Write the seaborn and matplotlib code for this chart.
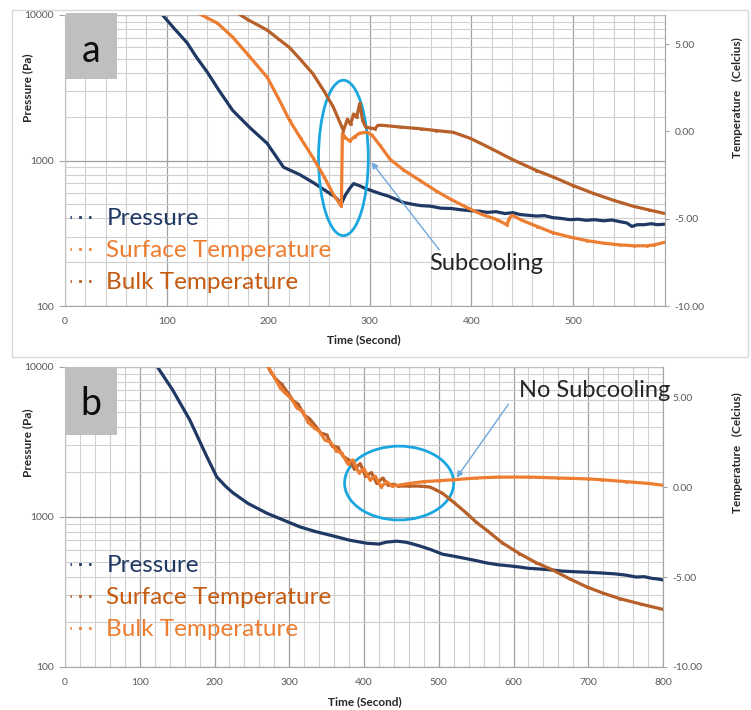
import matplotlib
matplotlib.use("Agg")
import matplotlib.pyplot as plt
import seaborn as sns
from matplotlib.patches import Ellipse, Rectangle
from matplotlib.lines import Line2D
from matplotlib.ticker import LogLocator, NullFormatter, MultipleLocator

# ---------------- data: panel a ----------------
a_p_t = [96, 108, 120, 130, 140, 152, 165, 182, 199, 215, 231, 245, 258, 266, 272,
         276, 280, 284, 290, 296, 302, 310, 318, 326, 333, 342, 350, 360, 370, 380,
         390, 399, 408, 416, 424, 433, 441, 448, 456, 464, 472, 480, 488, 497, 505,
         513, 521, 530, 538, 546, 553, 558, 563, 570, 577, 583, 590]
a_p_v = [10000, 8000, 6460, 5050, 4050, 3000, 2210, 1680, 1310, 900, 800, 700, 610, 560, 505,
         580, 640, 694, 670, 640, 620, 592, 570, 540, 515, 500, 490, 485, 470, 468,
         458, 452, 448, 440, 445, 432, 438, 425, 420, 415, 418, 405, 400, 392, 395,
         388, 392, 385, 390, 380, 372, 352, 362, 362, 368, 362, 365]

a_s_t = [120, 130, 140, 150, 165, 180, 199, 210, 221, 232, 244, 255, 265, 271, 272,
         273, 276, 280, 285, 290, 297, 302, 310, 320, 333, 349, 365, 380, 397, 410,
         425, 435, 437, 440, 450, 465, 480, 497, 514, 530, 546, 560, 573, 580, 590]
a_s_v = [7.3, 6.8, 6.5, 6.2, 5.4, 4.4, 3.1, 1.9, 0.63, -0.4, -1.5, -2.6, -3.7, -4.2, -4.3,
         -0.1, -0.35, -0.55, -0.3, -0.1, -0.05, -0.2, -0.8, -1.6, -2.2, -2.8, -3.4, -3.9, -4.4, -4.75,
         -5.05, -5.35, -5.0, -4.8, -5.1, -5.45, -5.8, -6.05, -6.26, -6.4, -6.5, -6.55, -6.55, -6.5, -6.35]

a_b_t = [158, 165, 180, 199, 210, 221, 232, 244, 255, 264, 274, 278, 281, 284, 287,
         290, 293, 296, 300, 305, 308, 312, 330, 350, 365, 382, 399, 420, 440, 464,
         480, 500, 520, 540, 560, 575, 590]
a_b_v = [7.3, 6.95, 6.4, 5.8, 5.3, 4.8, 4.1, 3.3, 2.3, 1.4, 0.05, 0.7, 0.4, 1.0, 0.8,
         1.6, 0.6, 0.25, 0.2, 0.15, 0.35, 0.35, 0.25, 0.15, 0.05, -0.05, -0.4, -1.0, -1.6, -2.24,
         -2.6, -3.1, -3.55, -3.95, -4.3, -4.5, -4.7]

# ---------------- data: panel b ----------------
b_p_t = [122, 144, 167, 190, 203, 215, 225, 245, 270, 292, 314, 335, 360, 381, 404,
         420, 430, 444, 455, 461, 475, 490, 505, 520, 535, 550, 564, 580, 595, 608,
         620, 635, 652, 665, 680, 700, 719, 735, 750, 764, 775, 785, 795, 800]
b_p_v = [10300, 7030, 4430, 2510, 1850, 1600, 1445, 1230, 1060, 955, 860, 800, 745, 700, 668,
         660, 680, 690, 680, 670, 640, 605, 565, 548, 530, 512, 494, 480, 472, 464,
         455, 450, 443, 436, 432, 428, 423, 418, 410, 398, 400, 390, 385, 380]

b_s_t = [268, 275, 282, 290, 297, 305, 312, 320, 327, 335, 342, 350, 357, 365, 372,
         380, 387, 395, 402, 410, 417, 425, 432, 440, 446, 460, 475, 488, 496, 505,
         520, 537, 550, 564, 585, 608, 630, 652, 675, 698, 720, 742, 770, 800]
b_s_v = [7.0, 6.4, 6.0, 5.7, 5.3, 4.8, 4.6, 4.0, 3.8, 3.4, 3.0, 2.9, 2.3, 2.2, 1.7,
         1.5, 1.0, 1.3, 0.6, 0.8, 0.2, 0.5, 0.1, 0.15, 0.05, 0.05, 0.05, 0.0, -0.15, -0.35,
         -0.85, -1.45, -1.95, -2.4, -3.1, -3.7, -4.2, -4.6, -5.1, -5.55, -5.9, -6.2, -6.5, -6.8]

b_b_t = [266, 273, 280, 288, 295, 303, 310, 318, 325, 333, 340, 348, 355, 363, 370,
         378, 385, 393, 400, 408, 415, 423, 430, 438, 446, 461, 480, 500, 519, 550,
         580, 622, 660, 700, 719, 750, 780, 800]
b_b_v = [7.2, 6.6, 6.1, 5.5, 5.2, 4.9, 4.4, 4.2, 3.6, 3.3, 3.1, 2.6, 2.5, 2.0, 1.9,
         1.3, 1.5, 0.8, 1.0, 0.4, 0.6, 0.0, 0.3, 0.05, 0.1, 0.2, 0.3, 0.35, 0.4, 0.5,
         0.55, 0.55, 0.5, 0.45, 0.4, 0.3, 0.2, 0.1]

p_ticks = [100, 1000, 10000]
p_tick_labels = ["100", "1000", "10000"]
t_ticks = [-10, -5, 0, 5]
t_tick_labels = ["-10.00", "-5.00", "0.00", "5.00"]
legend_labels = ["Pressure", "Surface Temperature", "Bulk Temperature"]

NAVY = "#1F3864"
LIGHT = "#ED7D31"
DARK = "#B8602A"
DARK_TXT = "#C55A11"
CYAN = "#1AA7E0"
ARROW = "#6FA8DC"

sns.set_style("white")
plt.rcParams["font.family"] = ["Lato", "DejaVu Sans"]

W, H = 751, 710
fig = plt.figure(figsize=(W / 100, H / 100), dpi=100)


def fx(px):
    return px / W


def fy(py):
    return 1 - py / H


def panel(left, top, right, bottom, xmax, p_t, p_v, s_t, s_v, b_t, b_v, s_col, b_col):
    ax = fig.add_axes([fx(left), fy(bottom), (right - left) / W, (bottom - top) / H])
    ax.set_yscale("log")
    sns.lineplot(x=p_t, y=p_v, ax=ax, color=NAVY, lw=2.3, sort=False, estimator=None)
    ax.set_xlim(0, xmax)
    ax.set_ylim(100, 10000)
    ax.set_yticks(p_ticks)
    ax.set_yticklabels(p_tick_labels)
    ax.yaxis.set_minor_locator(LogLocator(base=10, subs=range(2, 10)))
    ax.yaxis.set_minor_formatter(NullFormatter())
    ax.xaxis.set_major_locator(MultipleLocator(100))
    ax.xaxis.set_minor_locator(MultipleLocator(20))
    ax.grid(which="major", color="#A0A0A0", lw=0.9)
    ax.grid(which="minor", color="#D0D0D0", lw=0.8)
    ax.set_axisbelow(True)
    for s in ax.spines.values():
        s.set_color("#BFBFBF")
    ax.spines["bottom"].set_color("#A6A6A6")
    ax.tick_params(axis="both", which="major", length=4, color="#A6A6A6",
                   labelsize=7.5, labelcolor="#595959", pad=4)
    ax.tick_params(axis="y", which="minor", length=0)
    ax.tick_params(axis="x", which="minor", length=2, color="#BFBFBF")
    ax.set_xlabel("")
    ax.set_ylabel("")

    ax2 = ax.twinx()
    sns.lineplot(x=s_t, y=s_v, ax=ax2, color=s_col, lw=2.3, sort=False, estimator=None,
                 marker="o", markersize=2.2, markeredgewidth=0)
    sns.lineplot(x=b_t, y=b_v, ax=ax2, color=b_col, lw=2.3, sort=False, estimator=None,
                 marker="o", markersize=2.2, markeredgewidth=0)
    ax2.set_ylim(-10, 6.667)
    ax2.set_yticks(t_ticks)
    ax2.set_yticklabels(t_tick_labels)
    ax2.grid(False)
    for k, s in ax2.spines.items():
        s.set_visible(k == "right")
    ax2.spines["right"].set_color("#A6A6A6")
    ax2.tick_params(axis="y", length=3, color="#A6A6A6", labelsize=7.5,
                    labelcolor="#595959", pad=4)
    ax2.set_ylabel("")
    ax2.set_xlim(0, xmax)

    handles = [Line2D([0], [0], color=c, lw=2.0, ls=(0.5, (1, 2.6)))
               for c in (NAVY, s_col, b_col)]
    return ax, ax2, handles


LEG = dict(loc="upper left", bbox_transform=fig.transFigure, frameon=False, fontsize=17.5,
           handlelength=0.85, handletextpad=0.65, labelspacing=0.46, borderpad=0,
           borderaxespad=0)

# ---------------- frame of upper chart ----------------
fig.add_artist(Rectangle((fx(12), fy(357)), (748 - 12) / W, (357 - 10) / H,
                         transform=fig.transFigure, fill=False, ec="#D9D9D9", lw=1))

# ---------------- panel a ----------------
axa, axa2, ha = panel(65, 15, 665, 306, 590.5, a_p_t, a_p_v, a_s_t, a_s_v, a_b_t, a_b_v,
                      LIGHT, DARK)
axa2.add_patch(Ellipse((274, -1.52), 49, 8.9, fill=False, ec=CYAN, lw=2))
axa2.annotate("", xy=(300, -1.64), xytext=(370, -6.91),
              arrowprops=dict(arrowstyle="-|>", color=ARROW, lw=1, mutation_scale=9))
axa2.legend(ha, legend_labels, bbox_to_anchor=(fx(70), fy(208)),
            labelcolor=[NAVY, LIGHT, DARK_TXT], **LEG)
fig.text(fx(429), fy(270), "Subcooling", fontsize=17, color="#262626", va="baseline")

# ---------------- panel b ----------------
axb, axb2, hb = panel(65, 367, 663, 667, 800, b_p_t, b_p_v, b_s_t, b_s_v, b_b_t, b_b_v,
                      DARK, LIGHT)
axb2.add_patch(Ellipse((447, 0.22), 146, 4.1, fill=False, ec=CYAN, lw=2))
axb2.annotate("", xy=(521.7, 0.39), xytext=(595.3, 4.72),
              arrowprops=dict(arrowstyle="-|>", color=ARROW, lw=1, mutation_scale=9))
axb2.legend(hb, legend_labels, bbox_to_anchor=(fx(70), fy(555)),
            labelcolor=[NAVY, DARK_TXT, LIGHT], **LEG)
fig.text(fx(519), fy(397), "No Subcooling", fontsize=17, color="#262626", va="baseline")

# ---------------- panel letters ----------------
for (x0, y0, x1, y1, letter, base) in [(66, 13, 117, 79, "a", 62), (65, 368, 117, 435, "b", 415)]:
    fig.add_artist(Rectangle((fx(x0), fy(y1)), (x1 - x0) / W, (y1 - y0) / H,
                             transform=fig.transFigure, fc="#BFBFBF", ec="none"))
    fig.text(fx((x0 + x1) / 2), fy(base), letter, fontsize=27, color="#0D0D0D",
             ha="center", va="baseline")

# ---------------- axis titles ----------------
lab = dict(fontsize=8.5, fontweight="bold", color="#262626")
fig.text(fx(28), fy(88), "Pressure (Pa)", rotation=90, ha="center", va="center", **lab)
fig.text(fx(28), fy(443), "Pressure (Pa)", rotation=90, ha="center", va="center", **lab)
fig.text(fx(737), fy(98), "Temperature   (Celcius)", rotation=90, ha="center", va="center", **lab)
fig.text(fx(737), fy(453), "Temperature   (Celcius)", rotation=90, ha="center", va="center", **lab)
fig.text(fx(364), fy(340), "Time (Second)", ha="center", va="center", **lab)
fig.text(fx(365), fy(702), "Time (Second)", ha="center", va="center", **lab)

fig.savefig("out.png", dpi=100)
